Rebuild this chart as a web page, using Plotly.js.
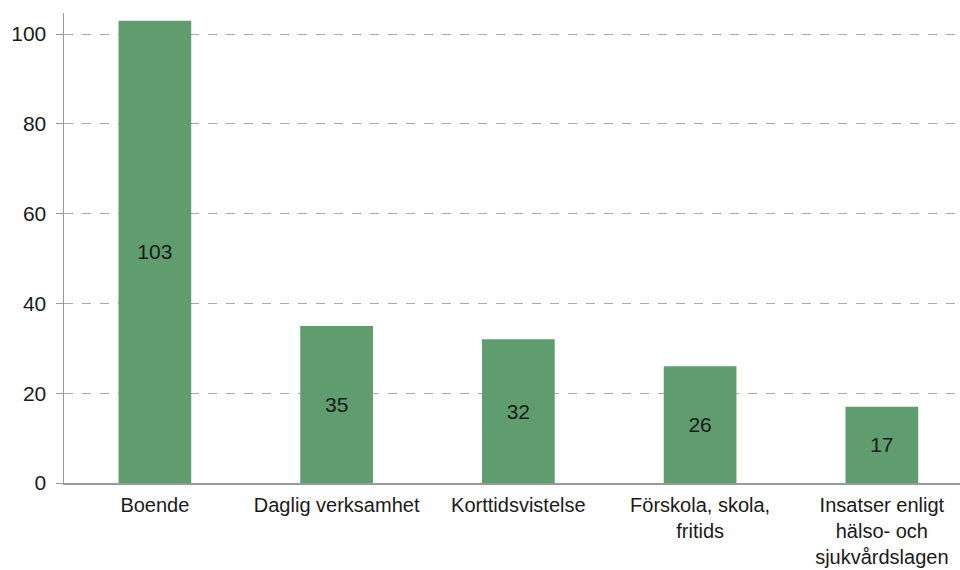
<!DOCTYPE html>
<html>
<head>
<meta charset="utf-8">
<script src="https://cdn.plot.ly/plotly-3.0.1.min.js"></script>
<style>html,body{margin:0;padding:0;background:#fff;}#chart{width:960px;height:570px;}</style>
</head>
<body>
<div id="chart"></div>
<script>
const categories = ["Boende", "Daglig verksamhet", "Korttidsvistelse", "Förskola, skola,<br>fritids", "Insatser enligt<br>hälso- och<br>sjukvårdslagen"];
const values = [103, 35, 32, 26, 17];
const yTicks = [0, 20, 40, 60, 80, 100];

const font = {family: "Liberation Sans, Arial, sans-serif", size: 21, color: "#1a1a1a"};
const xfont = {family: "Liberation Sans, Arial, sans-serif", size: 20, color: "#1a1a1a"};

Plotly.newPlot("chart", [{
  type: "bar",
  x: categories,
  y: values,
  width: 0.4,
  marker: {color: "#5f9c6e"},
  text: values.map(String),
  textposition: "inside",
  insidetextanchor: "middle",
  textangle: 0,
  textfont: font,
  hoverinfo: "skip"
}], {
  width: 960,
  height: 570,
  margin: {l: 64, r: 0, t: 13, b: 87},
  paper_bgcolor: "#fff",
  plot_bgcolor: "#fff",
  font: font,
  showlegend: false,
  xaxis: {
    range: [-0.5, 4.43],
    showline: true,
    linecolor: "#999",
    linewidth: 1.5,
    ticks: "",
    tickfont: xfont,
    ticklabelstandoff: 3,
    showgrid: false,
    zeroline: false,
    automargin: false
  },
  yaxis: {
    range: [0, 104.7],
    tickvals: yTicks,
    ticktext: yTicks.map(String),
    showline: true,
    linecolor: "#999",
    linewidth: 1.5,
    ticks: "outside",
    ticklen: 7,
    tickcolor: "#999",
    tickfont: font,
    ticklabelstandoff: 5,
    showgrid: true,
    gridcolor: "#aaa",
    griddash: "dash",
    gridwidth: 1,
    zeroline: false,
    automargin: false
  }
}, {staticPlot: true});
</script>
</body>
</html>
